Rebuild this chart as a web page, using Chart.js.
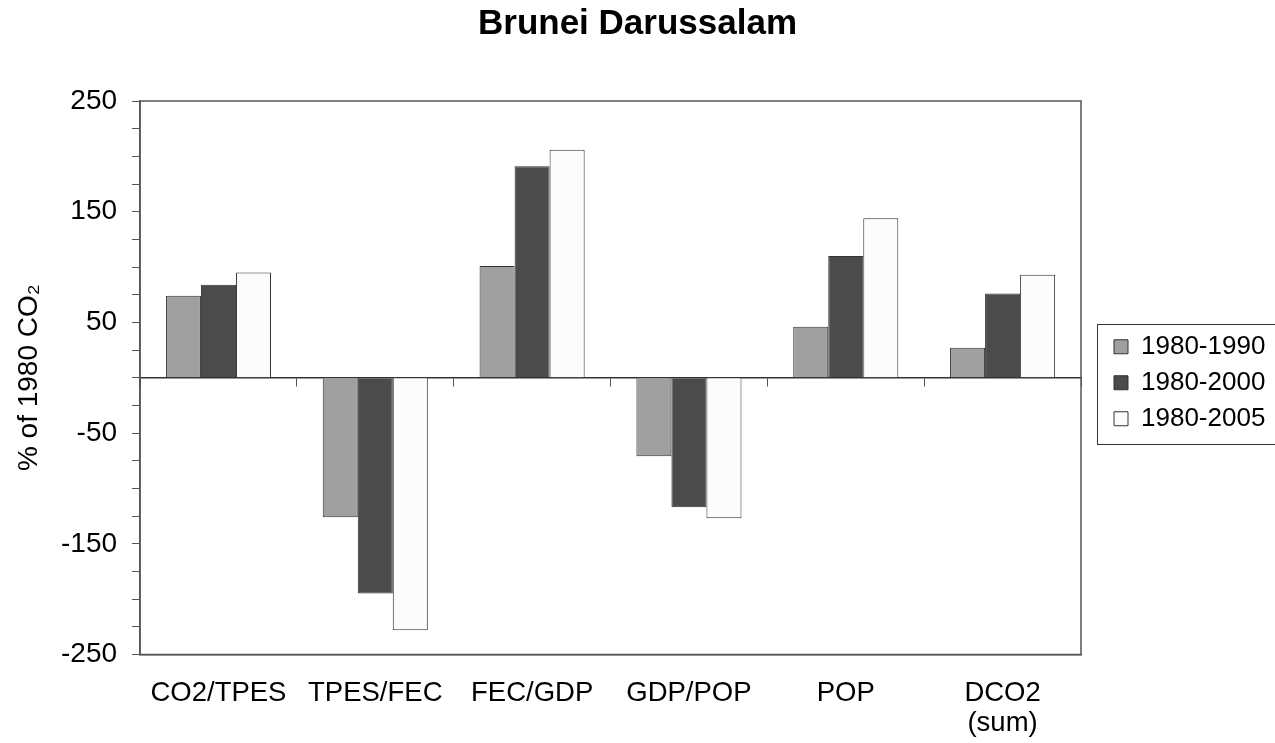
<!DOCTYPE html>
<html>
<head>
<meta charset="utf-8">
<script src="https://cdn.jsdelivr.net/npm/chart.js@4"></script>
<style>
  body { margin: 0; background: #fff; }
  #wrap { width: 1275px; height: 743px; }
</style>
</head>
<body>
<div id="wrap"><canvas id="co2Chart"></canvas></div>
<script>
var categories = ["CO2/TPES", "TPES/FEC", "FEC/GDP", "GDP/POP", "POP", ["DCO2", "(sum)"]];
var seriesNames = ["1980-1990", "1980-2000", "1980-2005"];
var values1990 = [74, -126, 101, -71, 46, 27];
var values2000 = [84, -195, 191, -117, 110, 76];
var values2005 = [95, -228, 206, -127, 144, 93];
var yTicks = [250, 150, 50, -50, -150, -250];

var fontFamily = "'Liberation Sans', Arial, sans-serif";

// legend sits a bit further right than chart.js puts it, inside a box;
// also draws the frame round the plot
var legendPlugin = {
  id: "legendBox",
  afterInit: function (chart) {
    var lg = chart.legend;
    var fit = lg.fit;
    lg.fit = function () {
      fit.call(this);
      this.width = 194;
    };
  },
  afterLayout: function (chart) {
    var lg = chart.legend;
    lg.left += 23;
    lg.right += 23;
    lg.top += 5;
    lg.bottom += 5;
  },
  afterDraw: function (chart) {
    var ctx = chart.ctx;
    var a = chart.chartArea;
    ctx.save();
    ctx.strokeStyle = "#555";
    ctx.lineWidth = 1.5;
    ctx.strokeRect(a.left, a.top, a.right - a.left, a.bottom - a.top);
    var hb = chart.legend.legendHitBoxes;
    var first = hb[0];
    var last = hb[hb.length - 1];
    var top = first.top - 10;
    var bottom = last.top + last.height + 12;
    ctx.lineWidth = 1;
    ctx.strokeStyle = "#333";
    ctx.strokeRect(Math.round(a.right + 16) + 0.5, Math.round(top) + 0.5, 400, Math.round(bottom - top));
    ctx.restore();
  },
};

var ctx = document.getElementById("co2Chart").getContext("2d");
var chart = new Chart(ctx, {
  type: "bar",
  data: {
    labels: categories,
    datasets: [
      {
        label: seriesNames[0],
        data: values1990,
        backgroundColor: "#a0a0a0",
        borderColor: "#333",
        borderWidth: 1,
      },
      {
        label: seriesNames[1],
        data: values2000,
        backgroundColor: "#4b4b4b",
        borderColor: "#333",
        borderWidth: 1,
      },
      {
        label: seriesNames[2],
        data: values2005,
        backgroundColor: "#fcfcfc",
        borderColor: "#333",
        borderWidth: 1,
      },
    ],
  },
  options: {
    responsive: true,
    maintainAspectRatio: false,
    animation: false,
    categoryPercentage: 0.67,
    barPercentage: 1,
    // chart.js counts tick padding twice, so pull the bottom in
    layout: { padding: { top: 0, left: 0, right: 0, bottom: -20 } },
    plugins: {
      title: {
        display: true,
        text: "Brunei Darussalam",
        color: "#000",
        font: { family: fontFamily, size: 35, weight: "bold" },
        padding: { top: 3, bottom: 56 },
      },
      legend: {
        position: "right",
        fullSize: false,
        labels: {
          color: "#000",
          font: { family: fontFamily, size: 26 },
          boxWidth: 14,
          boxHeight: 14,
          padding: 10,
        },
      },
      tooltip: { enabled: false },
    },
    scales: {
      x: {
        position: "bottom",
        grid: { display: false, drawTicks: false },
        border: { display: true, color: "#555", width: 1.5 },
        ticks: {
          color: "#000",
          font: { family: fontFamily, size: 27.5, lineHeight: 1.1 },
          padding: 24,
          maxRotation: 0,
          autoSkip: false,
        },
      },
      xZero: {
        type: "category",
        position: { y: 0 },
        offset: true,
        grid: {
          offset: true,
          drawOnChartArea: false,
          drawTicks: true,
          tickLength: 8,
          color: "#555",
        },
        border: { display: true, color: "#333", width: 1.5 },
        ticks: { display: false },
      },
      y: {
        min: -250,
        max: 250,
        grid: {
          drawOnChartArea: false,
          tickLength: 8,
          color: "#555",
        },
        border: { display: true, color: "#555", width: 1.5 },
        ticks: {
          stepSize: 25,
          autoSkip: false,
          color: "#000",
          font: { family: fontFamily, size: 28 },
          padding: 15,
          callback: function (v) {
            return yTicks.indexOf(v) >= 0 ? String(v) : "";
          },
        },
        title: {
          display: true,
          text: "% of 1980 CO\u2082",
          color: "#000",
          font: { family: fontFamily, size: 28 },
          padding: { top: 12.4, bottom: 0 },
        },
      },
    },
  },
  plugins: [legendPlugin],
});
</script>
</body>
</html>
